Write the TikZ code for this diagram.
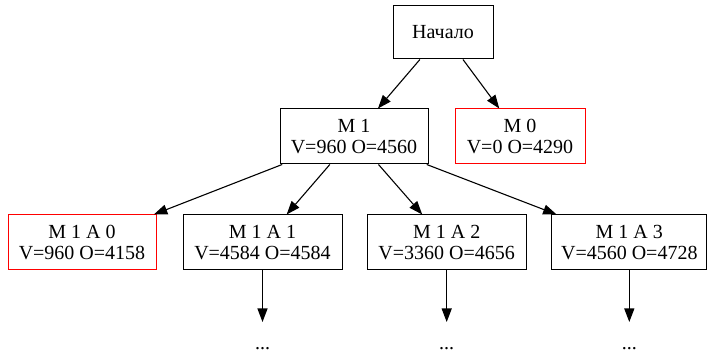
\documentclass[tikz,border=0pt]{standalone}
\usepackage{fontspec}
\setmainfont{Liberation Serif}
\usetikzlibrary{arrows.meta}
\definecolor{gvred}{HTML}{FF0000}
\begin{document}
\begin{tikzpicture}[x=1pt,y=-1pt,
  box/.style={draw, line width=1pt, inner sep=0pt, align=center,
    font=\fontsize{20}{21.7}\selectfont, minimum height=55pt},
  redbox/.style={box, draw=gvred},
  dotnode/.style={inner sep=0pt, font=\fontsize{20}{21.7}\selectfont},
  edge/.style={line width=1.1pt, -{Triangle[length=13.5pt,width=10pt]}}]
\path[use as bounding box] (0,0) rectangle (707,355);
\node[box, minimum width=100pt, minimum height=53pt] (start) at (443,32.5) {Начало};
\node[box, minimum width=148pt] (m1) at (354,136.5) {M 1\\V=960 O=4560};
\node[redbox, minimum width=130pt] (m0) at (520,136.5) {M 0\\V=0 O=4290};
\node[redbox, minimum width=148pt] (a0) at (82,242.5) {M 1 A 0\\V=960 O=4158};
\node[box, minimum width=159pt] (a1) at (262.5,242.5) {M 1 A 1\\V=4584 O=4584};
\node[box, minimum width=159pt] (a2) at (446.7,242.5) {M 1 A 2\\V=3360 O=4656};
\node[box, minimum width=155pt] (a3) at (629.3,242.5) {M 1 A 3\\V=4560 O=4728};
\node[dotnode, anchor=base] (d1) at (262.5,349) {...};
\node[dotnode, anchor=base] (d2) at (446.7,349) {...};
\node[dotnode, anchor=base] (d3) at (629.3,349) {...};
\coordinate (t1) at (262.5,322);
\coordinate (t2) at (446.7,322);
\coordinate (t3) at (629.3,322);
\draw[edge] (start) -- (m1);
\draw[edge] (start) -- (m0);
\draw[edge] (m1) -- (a0);
\draw[edge] (m1) -- (a1);
\draw[edge] (m1) -- (a2);
\draw[edge] (m1) -- (a3);
\draw[edge] (a1) -- (t1);
\draw[edge] (a2) -- (t2);
\draw[edge] (a3) -- (t3);
\end{tikzpicture}
\end{document}
